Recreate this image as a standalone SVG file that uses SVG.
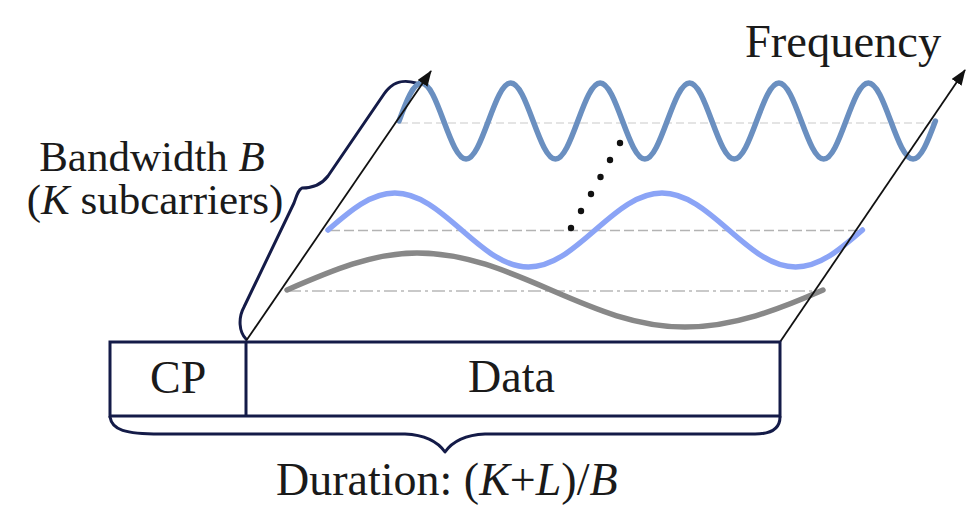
<svg xmlns="http://www.w3.org/2000/svg" width="977" height="508" viewBox="0 0 977 508">
<style>
.t{font-family:"Liberation Serif","Times New Roman",serif;fill:#1a1a1a}
.it{font-style:italic}
.navy{fill:none;stroke:#141b48;stroke-width:3;stroke-linecap:round;stroke-linejoin:round}
.wave{fill:none;stroke-width:5.5;stroke-linecap:round}
.axis{stroke:#111;stroke-width:1.8;fill:none}
</style>
<defs>
<marker id="ah" markerWidth="20" markerHeight="14" refX="15" refY="6" orient="auto" markerUnits="userSpaceOnUse">
<path d="M0,0 L16,6 L0,12 Z" fill="#111"/>
</marker>
</defs>
<rect width="977" height="508" fill="#fff"/>
<g id="bandwidth-brace">
<path class="navy" d="M246,339 C239,332 238,318 244,307 L294,203 C297,195 298,190 302,188 C312,188 322,184 328,176 L384,94 C392,82 402,79 416,83"/>
</g>
<g id="baselines">
<line x1="400" y1="123" x2="936" y2="123" stroke="#dcdcdc" stroke-width="1.3" stroke-dasharray="8,4"/>
<line x1="330" y1="230.5" x2="862" y2="230.5" stroke="#b3b3b3" stroke-width="1.6" stroke-dasharray="10,4"/>
<line x1="288" y1="291" x2="820" y2="291" stroke="#b8b8b8" stroke-width="1.6" stroke-dasharray="13,4,3,4"/>
</g>
<g id="subcarrier-high">
<path class="wave" stroke="#6a8fc0" d="M399,121 c 7.47,-19.95 14.3,-38 22.35,-38 c 8.05,0 14.88,18.05 22.35,38 c 7.47,19.95 14.3,38 22.35,38 c 8.05,0 14.88,-18.05 22.35,-38 c 7.47,-19.95 14.3,-38 22.35,-38 c 8.05,0 14.88,18.05 22.35,38 c 7.47,19.95 14.3,38 22.35,38 c 8.05,0 14.88,-18.05 22.35,-38 c 7.47,-19.95 14.3,-38 22.35,-38 c 8.05,0 14.88,18.05 22.35,38 c 7.47,19.95 14.3,38 22.35,38 c 8.05,0 14.88,-18.05 22.35,-38 c 7.47,-19.95 14.3,-38 22.35,-38 c 8.05,0 14.88,18.05 22.35,38 c 7.47,19.95 14.3,38 22.35,38 c 8.05,0 14.88,-18.05 22.35,-38 c 7.47,-19.95 14.3,-38 22.35,-38 c 8.05,0 14.88,18.05 22.35,38 c 7.47,19.95 14.3,38 22.35,38 c 8.05,0 14.88,-18.05 22.35,-38 c 7.47,-19.95 14.3,-38 22.35,-38 c 8.05,0 14.88,18.05 22.35,38 c 7.47,19.95 14.3,38 22.35,38 c 8.05,0 14.88,-18.05 22.35,-38"/>
</g>
<g id="subcarrier-mid">
<path class="wave" stroke="#8ba4f6" d="M328,230 c 22.3,-19.4 42.75,-37 66.8,-37 c 24.05,0 44.5,17.6 66.8,37 c 22.3,19.4 42.75,37 66.8,37 c 24.05,0 44.5,-17.6 66.8,-37 c 22.3,-19.4 42.75,-37 66.8,-37 c 24.05,0 44.5,17.6 66.8,37 c 22.3,19.4 42.75,37 66.8,37 c 24.05,0 44.5,-17.6 66.8,-37"/>
</g>
<g id="subcarrier-low">
<path class="wave" stroke="#888888" d="M287,290 c 44.76,-19.4 85.76,-37 130,-37 c 48.24,0 89.24,17.6 134,37 c 44.76,19.4 85.76,37 134,37 c 48.24,0 94.24,-17.6 138,-37"/>
</g>
<g id="dots" fill="#111">
<circle cx="571" cy="228" r="3.2"/>
<circle cx="581" cy="211" r="3.2"/>
<circle cx="591" cy="194" r="3.2"/>
<circle cx="600.5" cy="177" r="3.2"/>
<circle cx="610" cy="160" r="3.2"/>
<circle cx="620" cy="143" r="3.2"/>
</g>
<g id="connectors">
<path class="axis" d="M246,341 L431,71" marker-end="url(#ah)"/>
<path class="axis" d="M780,342 L965,70" marker-end="url(#ah)"/>
</g>
<g id="symbol-box">
<rect x="110" y="342" width="670" height="74" fill="none" stroke="#141b48" stroke-width="3"/>
<line x1="246" y1="342" x2="246" y2="416" stroke="#141b48" stroke-width="3"/>
<text class="t" x="150" y="393" font-size="46">CP</text>
<text class="t" x="468" y="392" font-size="46">Data</text>
</g>
<g id="duration-brace">
<path class="navy" d="M110,417 C112,430 125,434 160,434 L405,434 C425,435 438,442 445,452 C452,442 465,435 485,434 L755,434 C772,434 780,428 780,417"/>
<text class="t" x="276" y="495" font-size="46">Duration: (<tspan class="it">K</tspan>+<tspan class="it">L</tspan>)/<tspan class="it">B</tspan></text>
</g>
<g id="labels">
<text class="t" x="152" y="171" font-size="43" text-anchor="middle">Bandwidth <tspan class="it">B</tspan></text>
<text class="t" x="155" y="214" font-size="43" text-anchor="middle">(<tspan class="it">K</tspan> subcarriers)</text>
<text class="t" x="745" y="57" font-size="46.5">Frequency</text>
</g>
</svg>
